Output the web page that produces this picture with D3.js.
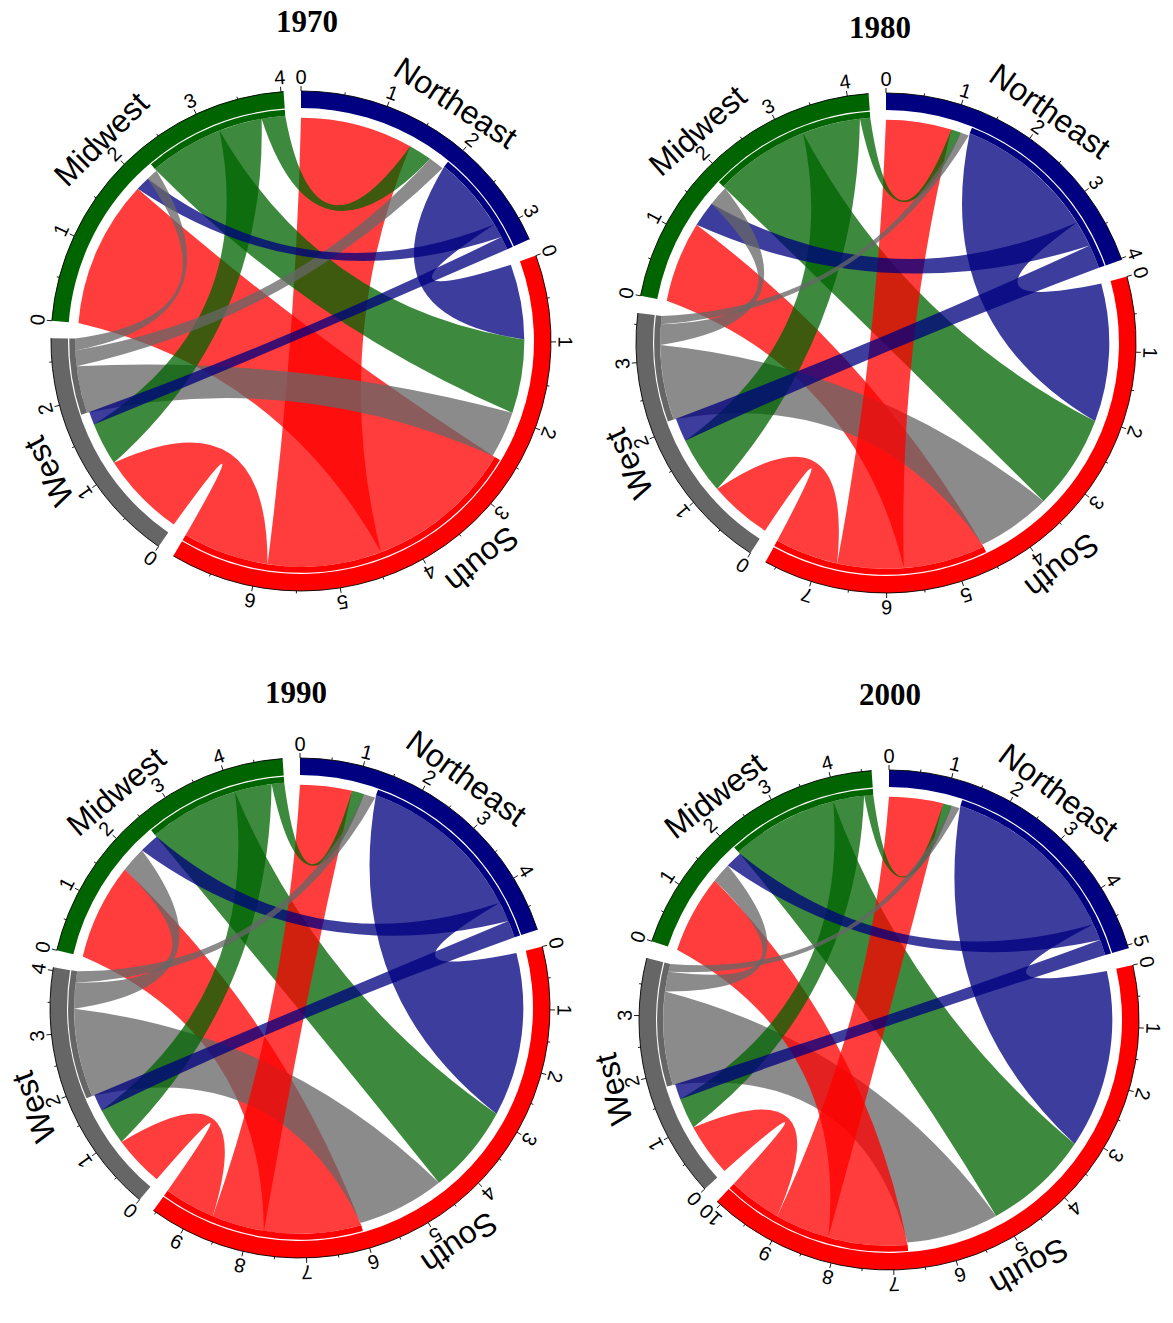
<!DOCTYPE html>
<html>
<head>
<meta charset="utf-8">
<script src="https://cdn.jsdelivr.net/npm/d3@7"></script>
<style>
  body { margin: 0; background: #fff; }
  svg { display: block; }
</style>
</head>
<body>
<svg id="chart" width="1173" height="1323"></svg>
<script>
// Regions in clockwise order, starting at 12 o'clock
const regions = ["Northeast", "South", "West", "Midwest"];
const regionColors = ["#000080", "#FF0000", "#666666", "#006400"];
const years = ["1970", "1980", "1990", "2000"];

// Migration flows between regions (millions); rows = origin, columns = destination,
// both in the order of `regions`
const flows1970 = [
  [0,    0.97, 0.17, 0.18],
  [1.45, 0,    1.10, 1.90],
  [0.20, 0.60, 0,    0.15],
  [0.30, 0.95, 0.55, 0]
];
const flows1980 = [
  [0,    2.05, 0.35, 0.38],
  [0.97, 0,    0.93, 1.20],
  [0.12, 1.10, 0,    0.30],
  [0.15, 1.40, 0.85, 0]
];
const flows1990 = [
  [0,    2.90, 0.30, 0.35],
  [0.92, 0,    0.90, 1.70],
  [0.20, 1.55, 0,    0.45],
  [0.22, 1.58, 0.65, 0]
];
const flows2000 = [
  [0,    3.20, 0.28, 0.30],
  [0.97, 0,    0.95, 1.40],
  [0.14, 1.65, 0,    0.35],
  [0.16, 1.90, 0.55, 0]
];
const flowsByYear = [flows1970, flows1980, flows1990, flows2000];

// Panel placement: circle centre and title anchor
const panels = [
  { cx: 301, cy: 341,  tx: 307, ty: 32 },
  { cx: 886, cy: 343,  tx: 880, ty: 38 },
  { cx: 300, cy: 1008, tx: 296, ty: 703 },
  { cx: 889, cy: 1020, tx: 890, ty: 705 }
];

// Radii of the rings
const R = 250;          // outer edge of the sector bar / axis line
const barIn = 233;      // inner edge of the sector bar
const stripOut = 231.8; // thin band marking the outflow part of a sector
const stripIn = 225.8;  // outflow ribbons start here
const linkIn = 223.3;   // inflow ribbons end here
const gapDeg = 4;
const linkAlpha = 0.76;

const svg = d3.select("#chart");
const rad = d => d * Math.PI / 180;
const deg = a => a * 180 / Math.PI;
const pt = (r, a) => [r * Math.sin(a), -r * Math.cos(a)];
const fmt = p => p[0].toFixed(2) + "," + p[1].toFixed(2);

function layout(flows) {
  const n = regions.length;
  const inTot = regions.map((_, j) => d3.sum(flows, row => row[j]));
  const outTot = flows.map(row => d3.sum(row));
  const totals = inTot.map((v, i) => v + outTot[i]);
  const k = (360 - n * gapDeg) / d3.sum(totals);
  let a = 0;
  const sectors = totals.map((t, i) => {
    const s = { index: i, total: t, inTotal: inTot[i], start: rad(a), end: rad(a + t * k) };
    s.scale = d3.scaleLinear().domain([0, t]).range([s.start, s.end]);
    a += t * k + gapDeg;
    return s;
  });
  // inflows first, then outflows; each group sorted by size
  const src = {}, tgt = {};
  sectors.forEach(s => {
    const i = s.index;
    const others = d3.range(n).filter(j => j !== i);
    let pos = 0;
    others.slice()
      .sort((p, q) => d3.descending(flows[p][i], flows[q][i]) || p - q)
      .forEach(j => { tgt[j + "-" + i] = [pos, pos + flows[j][i]]; pos += flows[j][i]; });
    others.slice()
      .sort((p, q) => d3.descending(flows[i][p], flows[i][q]) || p - q)
      .forEach(j => { src[i + "-" + j] = [pos, pos + flows[i][j]]; pos += flows[i][j]; });
  });
  const links = [];
  for (let i = 0; i < n; i++) {
    for (let j = 0; j < n; j++) {
      if (i === j || !(flows[i][j] > 0)) continue;
      const key = i + "-" + j;
      links.push({
        source: i, target: j, value: flows[i][j],
        s: src[key].map(sectors[i].scale),
        t: tgt[key].map(sectors[j].scale)
      });
    }
  }
  return { sectors, links };
}

// Ribbon whose borders are quadratic curves pulled towards the centre
function ribbonPath(l) {
  const [s0, s1] = l.s, [t0, t1] = l.t;
  const a = pt(stripIn, s0), b = pt(stripIn, s1);
  const c = pt(linkIn, t0), d = pt(linkIn, t1);
  const ctrl = (p, q) => [0.15 * (p[0] + q[0]), 0.15 * (p[1] + q[1])];
  const large = (x, y) => (y - x) > Math.PI ? 1 : 0;
  return "M" + fmt(a) +
    "A" + stripIn + "," + stripIn + " 0 " + large(s0, s1) + " 1 " + fmt(b) +
    "Q" + fmt(ctrl(b, c)) + " " + fmt(c) +
    "A" + linkIn + "," + linkIn + " 0 " + large(t0, t1) + " 1 " + fmt(d) +
    "Q" + fmt(ctrl(d, a)) + " " + fmt(a) + "Z";
}

function arcLine(r, a0, a1) {
  return "M" + fmt(pt(r, a0)) + "A" + r + "," + r + " 0 " + ((a1 - a0) > Math.PI ? 1 : 0) + " 1 " + fmt(pt(r, a1));
}

function drawPanel(p, flows, year) {
  svg.append("text")
    .attr("x", p.tx).attr("y", p.ty)
    .attr("text-anchor", "middle")
    .attr("font-family", "'Liberation Serif', 'Times New Roman', serif")
    .attr("font-weight", "bold")
    .attr("font-size", 31)
    .attr("fill", "#000")
    .text(year);

  const g = svg.append("g").attr("transform", `translate(${p.cx},${p.cy})`);
  const { sectors, links } = layout(flows);
  const arc = d3.arc();

  // ribbons: largest drawn first so smaller flows sit on top
  const gl = g.append("g");
  links.slice()
    .sort((x, y) => d3.descending(x.value, y.value))
    .forEach(l => {
      gl.append("path")
        .attr("d", ribbonPath(l))
        .attr("fill", regionColors[l.source])
        .attr("fill-opacity", linkAlpha);
    });

  sectors.forEach(s => {
    const col = regionColors[s.index];
    // outer bar
    g.append("path")
      .attr("d", arc({ innerRadius: barIn, outerRadius: R, startAngle: s.start, endAngle: s.end }))
      .attr("fill", col);
    // thin band over the outflow part
    g.append("path")
      .attr("d", arc({ innerRadius: stripIn, outerRadius: stripOut, startAngle: s.scale(s.inTotal), endAngle: s.end }))
      .attr("fill", col);
    // axis line
    g.append("path")
      .attr("d", arcLine(R, s.start, s.end))
      .attr("fill", "none").attr("stroke", "#000").attr("stroke-width", 0.9);
    // ticks
    const ticks = d3.range(0, s.total + 1e-9, 0.5);
    ticks.forEach(v => {
      const a = s.scale(v);
      const major = Math.abs(v - Math.round(v)) < 1e-9;
      const p0 = pt(R, a), p1 = pt(R + (major ? 5 : 2.5), a);
      g.append("line")
        .attr("x1", p0[0]).attr("y1", p0[1]).attr("x2", p1[0]).attr("y2", p1[1])
        .attr("stroke", "#000").attr("stroke-width", 0.9);
      if (major) {
        const lp = pt(264.5, a);
        g.append("text")
          .attr("transform", `translate(${lp[0].toFixed(2)},${lp[1].toFixed(2)}) rotate(${deg(a).toFixed(2)})`)
          .attr("text-anchor", "middle")
          .attr("dominant-baseline", "central")
          .attr("font-family", "'Liberation Sans', Arial, sans-serif")
          .attr("font-size", 20)
          .attr("fill", "#000")
          .text(Math.round(v));
      }
    });
    // region name
    const mid = (s.start + s.end) / 2;
    const np = pt(284, mid);
    g.append("text")
      .attr("transform", `translate(${np[0].toFixed(2)},${np[1].toFixed(2)}) rotate(${deg(mid).toFixed(2)})`)
      .attr("text-anchor", "middle")
      .attr("dominant-baseline", "central")
      .attr("font-family", "'Liberation Sans', Arial, sans-serif")
      .attr("font-size", 32)
      .attr("fill", "#000")
      .text(regions[s.index]);
  });
}

panels.forEach((p, i) => drawPanel(p, flowsByYear[i], years[i]));
</script>
</body>
</html>
